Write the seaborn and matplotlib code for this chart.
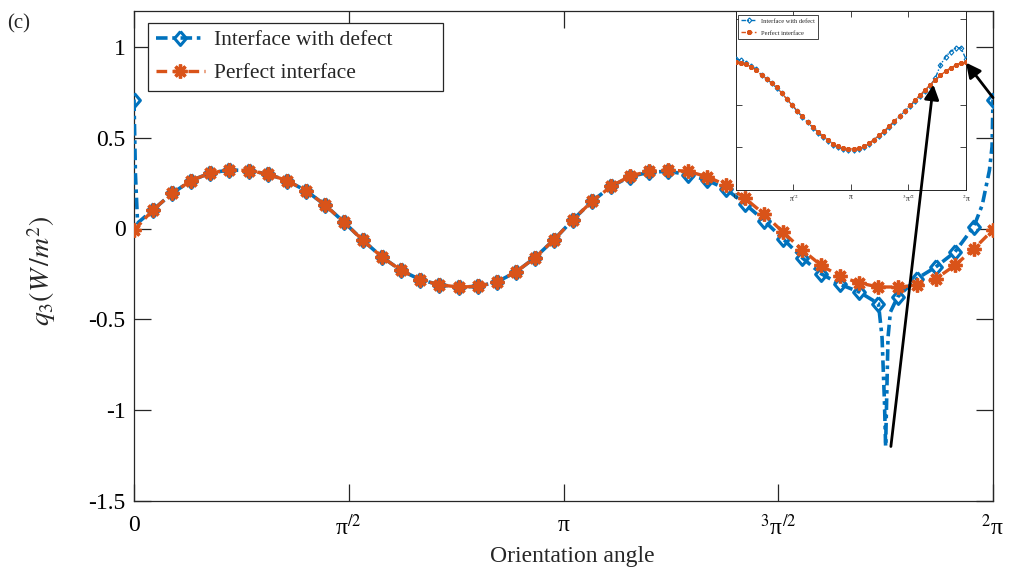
import numpy as np
import pandas as pd
import matplotlib
matplotlib.use("Agg")
import matplotlib.pyplot as plt
import seaborn as sns

sns.set_style("ticks")
plt.rcParams["font.family"] = ["Liberation Serif", "DejaVu Serif"]
plt.rcParams["mathtext.fontset"] = "stix"

# ---------------- data ----------------
marker_angle_deg = list(range(0, 361, 8))  # 46 sampled orientation angles

defect_q3 = [0.71, 0.103, 0.194, 0.264, 0.306, 0.322, 0.319, 0.300, 0.264, 0.209,
             0.130, 0.035, -0.066, -0.158, -0.231, -0.282, -0.310, -0.322, -0.319, -0.295,
             -0.240, -0.161, -0.062, 0.049, 0.150, 0.232, 0.286, 0.310, 0.315, 0.297,
             0.267, 0.218, 0.136, 0.044, -0.057, -0.161, -0.249, -0.308, -0.350, -0.414,
             -0.377, -0.277, -0.212, -0.130, 0.011, 0.71]

perfect_q3 = [-0.010, 0.103, 0.194, 0.264, 0.306, 0.322, 0.319, 0.300, 0.264, 0.209,
              0.130, 0.035, -0.066, -0.158, -0.231, -0.282, -0.310, -0.322, -0.319, -0.295,
              -0.240, -0.161, -0.062, 0.049, 0.150, 0.232, 0.290, 0.315, 0.322, 0.315,
              0.286, 0.240, 0.167, 0.080, -0.020, -0.117, -0.203, -0.264, -0.300, -0.322,
              -0.322, -0.313, -0.277, -0.203, -0.112, -0.007]

# extra (unmarked) points of the defect curve near the singular spots
defect_extra_deg = [0.6, 1.5, 313.5, 314.5, 315.0, 315.5, 316.0, 317.0, 355.5, 358.5, 359.6]
defect_extra_q3 = [0.30, 0.03, -0.60, -0.95, -1.20, -0.90, -0.60, -0.46, 0.13, 0.32, 0.45]

# inset (zoomed comparison), arbitrary units
inset_perfect = [0.50, 0.49, 0.47, 0.44, 0.40, 0.34, 0.30, 0.25, 0.20, 0.13,
                 0.06, -0.01, -0.07, -0.14, -0.20, -0.26, -0.32, -0.37, -0.42, -0.46,
                 -0.49, -0.51, -0.52, -0.52, -0.51, -0.49, -0.45, -0.41, -0.36, -0.31,
                 -0.25, -0.19, -0.13, -0.07, -0.01, 0.05, 0.11, 0.17, 0.23, 0.29,
                 0.34, 0.39, 0.43, 0.46, 0.49, 0.50]
inset_defect = [0.53, 0.52, 0.49, 0.45, 0.41, 0.35, 0.30, 0.25, 0.19, 0.13,
                0.06, -0.01, -0.08, -0.15, -0.21, -0.27, -0.33, -0.38, -0.43, -0.47,
                -0.50, -0.52, -0.53, -0.53, -0.52, -0.50, -0.46, -0.42, -0.37, -0.32,
                -0.26, -0.20, -0.14, -0.08, -0.02, 0.04, 0.10, 0.16, 0.22, 0.31,
                0.46, 0.56, 0.62, 0.66, 0.665, 0.53]

xtick_labels = ["0", "π$^{/2}$", "π", "$^{3}$π$^{/2}$", "$^{2}$π"]
ytick_values = [1, 0.5, 0, -0.5, -1, -1.5]
ytick_labels = ["1", "0.5", "0", "-0.5", "-1", "-1.5"]
series_labels = ["Interface with defect", "Perfect interface"]

BLUE = "#0072BD"
ORANGE = "#D95319"
AXC = "#262626"

# ---------------- build tables ----------------
df_def = pd.DataFrame({"deg": marker_angle_deg + defect_extra_deg,
                       "q3": defect_q3 + defect_extra_q3}).sort_values("deg").reset_index(drop=True)
df_def["theta"] = np.deg2rad(df_def["deg"])
marker_set = set(float(a) for a in marker_angle_deg)
def_mark_idx = [i for i, d in enumerate(df_def["deg"]) if float(d) in marker_set]

df_perf = pd.DataFrame({"theta": np.deg2rad(marker_angle_deg), "q3": perfect_q3})
df_in_p = pd.DataFrame({"theta": np.deg2rad(marker_angle_deg), "v": inset_perfect})
df_in_d = pd.DataFrame({"theta": np.deg2rad(marker_angle_deg), "v": inset_defect})

diamond = [(0, 1), (0.85, 0), (0, -1), (-0.85, 0), (0, 1)]

# ---------------- figure ----------------
fig = plt.figure(figsize=(10.12, 5.77), dpi=100)
ax = fig.add_axes([134 / 1012, 76 / 577, 859 / 1012, 490.5 / 577])

sns.lineplot(data=df_def, x="theta", y="q3", ax=ax, sort=False, estimator=None,
             color=BLUE, lw=2.6, linestyle=(0, (3.2, 1.3, 1.0, 1.3)),
             marker=diamond, markersize=10, markerfacecolor="none",
             markeredgecolor=BLUE, markeredgewidth=2.2, markevery=def_mark_idx,
             label=series_labels[0], zorder=3)
sns.lineplot(data=df_perf, x="theta", y="q3", ax=ax, sort=False, estimator=None,
             color=ORANGE, lw=2.4, linestyle=(0, (3.2, 1.6)),
             marker=(8, 2, 0), markersize=10, markerfacecolor=ORANGE,
             markeredgecolor=ORANGE, markeredgewidth=2.4,
             label=series_labels[1], zorder=4)

ax.set_xlim(0, 2 * np.pi)
ax.set_ylim(-1.5, 1.2)
ax.set_xticks([0, np.pi / 2, np.pi, 3 * np.pi / 2, 2 * np.pi])
ax.set_xticklabels(xtick_labels)
ax.set_yticks(ytick_values)
ax.set_yticklabels(ytick_labels)
ax.tick_params(axis="both", direction="in", length=12, width=0.9, color=AXC,
               top=True, right=True, labelsize=17, labelcolor="black")
ax.tick_params(axis="x", pad=10)
ax.tick_params(axis="y", pad=6)
for s in ax.spines.values():
    s.set_color(AXC)
    s.set_linewidth(0.9)

ax.set_xlabel("Orientation angle", fontsize=17)
ax.xaxis.set_label_coords(0.51, -0.092)
ax.set_ylabel(r"$q_3\left(W\,/m^2\right)$", fontsize=20)
ax.yaxis.set_label_coords(-0.088, 0.47)

leg = ax.legend(loc="upper left", bbox_to_anchor=(0.0163, 0.9755, 295 / 859, 0.0),
                mode="expand", borderaxespad=0,
                fontsize=15.5, frameon=True, fancybox=False, framealpha=1,
                edgecolor=AXC, handlelength=2.3, labelspacing=0.6,
                borderpad=0.35, handletextpad=0.4)
leg.get_frame().set_linewidth(0.9)

fig.text(0.007, 0.975, "(c)", fontsize=15, va="top", ha="left")

# ---------------- inset ----------------
axin = fig.add_axes([736 / 1012, 1 - 190 / 577, 230 / 1012, 179.5 / 577])
axin.set_facecolor("white")
sns.lineplot(data=df_in_d, x="theta", y="v", ax=axin, sort=False, estimator=None,
             color=BLUE, lw=1.0, linestyle=(0, (3.2, 1.3, 1.0, 1.3)),
             marker=diamond, markersize=3.8, markerfacecolor="none",
             markeredgecolor=BLUE, markeredgewidth=0.8,
             label=series_labels[0], zorder=3)
sns.lineplot(data=df_in_p, x="theta", y="v", ax=axin, sort=False, estimator=None,
             color=ORANGE, lw=1.0, linestyle=(0, (3.2, 1.6)),
             marker=(8, 2, 0), markersize=3.6, markerfacecolor=ORANGE,
             markeredgecolor=ORANGE, markeredgewidth=1.0,
             label=series_labels[1], zorder=4)
axin.set_xlim(0, 2 * np.pi)
axin.set_ylim(-1.0, 1.1)
axin.set_xticks([0, np.pi / 2, np.pi, 3 * np.pi / 2, 2 * np.pi])
axin.set_xticklabels(xtick_labels)
axin.set_yticks([-0.5, 0, 0.5, 1])
axin.set_yticklabels([])
axin.set_xlabel("")
axin.set_ylabel("")
axin.tick_params(axis="both", direction="in", length=4, width=0.6, color=AXC,
                 top=True, right=True, labelsize=5.5, pad=2)
for s in axin.spines.values():
    s.set_color(AXC)
    s.set_linewidth(0.7)
lg2 = axin.legend(loc="upper left", bbox_to_anchor=(0.01, 0.975, 80 / 230, 0.0),
                  mode="expand", borderaxespad=0,
                  fontsize=4.6, frameon=True, fancybox=False, framealpha=1,
                  edgecolor=AXC, handlelength=2.2, labelspacing=1.0, borderpad=0.5)
lg2.get_frame().set_linewidth(0.6)

# ---------------- arrows (main data -> inset data) ----------------
for tip, tail in [((np.deg2rad(309), 0.233), (np.deg2rad(317.2), -1.20)),
                  ((2 * np.pi, 0.49), (2 * np.pi, 0.72))]:
    ann = axin.annotate("", xy=tip, xycoords=axin.transData,
                        xytext=tail, textcoords=ax.transData,
                        annotation_clip=False,
                        arrowprops=dict(arrowstyle="-|>", color="black", lw=2.0,
                                        mutation_scale=22, shrinkA=0, shrinkB=0))
    ann.arrow_patch.set_clip_on(False)
    ann.set_zorder(10)

fig.savefig("out.png", dpi=100)
